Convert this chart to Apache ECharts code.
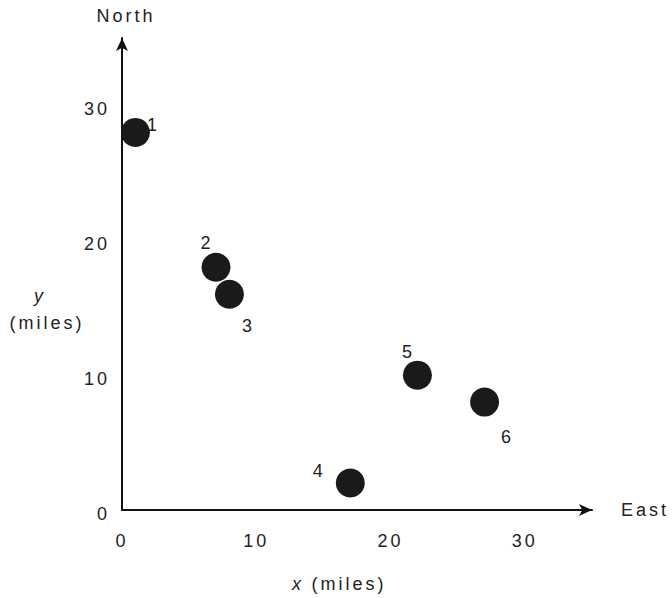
<!DOCTYPE html>
<html>
<head>
<meta charset="utf-8">
<script src="https://cdn.jsdelivr.net/npm/echarts@6/dist/echarts.min.js"></script>
<style>html,body{margin:0;padding:0;background:#fff}#c{width:672px;height:598px}#c text{letter-spacing:3px}</style>
</head>
<body>
<div id="c"></div>
<script>
// Data
var pointNames = ['1', '2', '3', '4', '5', '6'];
var xValues = [1, 7, 8, 17, 22, 27];
var yValues = [28, 18, 16, 2, 10, 8];
var xTicks = [0, 10, 20, 30];
var yTicks = [0, 10, 20, 30];

// label offsets (style only)
var labelOffsets = [[18, -7], [-9, -24], [19, 32], [-31, -12], [-9, -23], [23, 35]];

var FONT = 'Liberation Sans, Arial, sans-serif';
var FS = 18;
var chart = echarts.init(document.getElementById('c'), null, { renderer: 'svg' });
var seriesData = pointNames.map(function (n, i) {
  return {
    name: n,
    value: [xValues[i], yValues[i]],
    label: { offset: labelOffsets[i] }
  };
});
chart.setOption({
  animation: false,
  grid: { left: 122, top: 38, width: 470, height: 472 },
  xAxis: {
    type: 'value', min: 0, max: 35, interval: 10,
    splitLine: { show: false },
    axisTick: { show: false },
    axisLine: { onZero: false, lineStyle: { color: '#111', width: 2 }, symbol: ['none', 'arrow'], symbolSize: [9, 13] },
    axisLabel: {
      showMaxLabel: false, margin: 22, color: '#222', fontSize: FS, fontFamily: FONT,
      formatter: function (v) { return xTicks.indexOf(v) >= 0 ? String(v) : ''; }
    },
    name: 'East', nameLocation: 'end', nameGap: 29,
    nameTextStyle: { color: '#222', fontSize: FS, fontFamily: FONT, align: 'left', verticalAlign: 'middle' }
  },
  yAxis: {
    type: 'value', min: 0, max: 35, interval: 10,
    splitLine: { show: false },
    axisTick: { show: false },
    axisLine: { onZero: false, lineStyle: { color: '#111', width: 2 }, symbol: ['none', 'arrow'], symbolSize: [9, 13] },
    axisLabel: {
      showMaxLabel: false, margin: 12, color: '#222', fontSize: FS, fontFamily: FONT,
      verticalAlign: 'top', lineHeight: 8,
      formatter: function (v) { return yTicks.indexOf(v) >= 0 ? String(v) : ''; }
    },
    name: 'North', nameLocation: 'end', nameGap: 13,
    nameTextStyle: { color: '#222', fontSize: FS, fontFamily: FONT, align: 'center', padding: [0, 0, 0, 8] }
  },
  graphic: [
    {
      type: 'text', x: 298, y: 584,
      style: { text: 'x', align: 'center', verticalAlign: 'middle', font: 'italic ' + FS + 'px ' + FONT, fill: '#222' }
    },
    {
      type: 'text', x: 349, y: 584,
      style: { text: '(miles)', align: 'center', verticalAlign: 'middle', font: FS + 'px ' + FONT, fill: '#222' }
    },
    {
      type: 'text', x: 40, y: 296,
      style: { text: 'y', align: 'center', verticalAlign: 'middle', font: 'italic ' + FS + 'px ' + FONT, fill: '#222' }
    },
    {
      type: 'text', x: 47, y: 323,
      style: { text: '(miles)', align: 'center', verticalAlign: 'middle', font: FS + 'px ' + FONT, fill: '#222' }
    }
  ],
  series: [{
    type: 'scatter',
    data: seriesData,
    symbolSize: 29,
    itemStyle: { color: '#1a1a1a', opacity: 1 },
    label: {
      show: true, position: 'inside', formatter: '{b}',
      color: '#222', fontSize: FS, fontFamily: FONT
    }
  }]
});
</script>
</body>
</html>
